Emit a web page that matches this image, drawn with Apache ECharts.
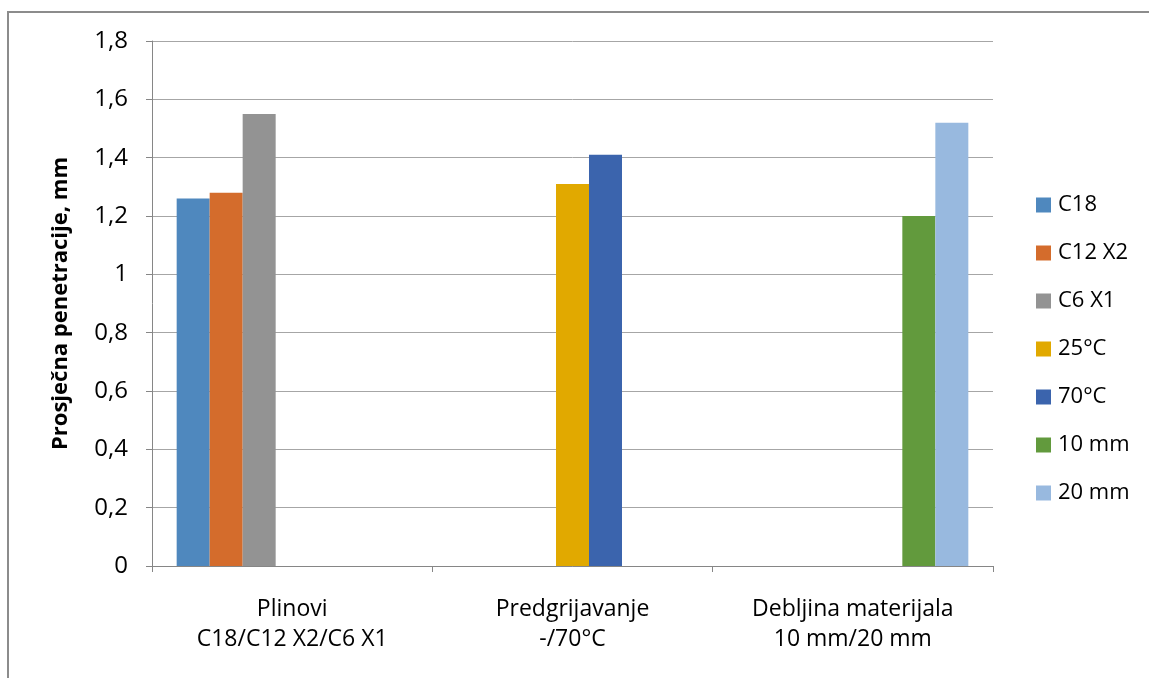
<!DOCTYPE html>
<html>
<head>
<meta charset="utf-8">
<script src="https://cdn.jsdelivr.net/npm/echarts@6/dist/echarts.min.js"></script>
<style>
html,body{margin:0;padding:0;background:#fff;}
#c{width:1149px;height:678px;}
</style>
</head>
<body>
<div id="c"></div>
<script>
var categories = ['Plinovi\nC18/C12 X2/C6 X1', 'Predgrijavanje\n-/70°C', 'Debljina materijala\n10 mm/20 mm'];
var seriesNames = ['C18', 'C12 X2', 'C6 X1', '25°C', '70°C', '10 mm', '20 mm'];
var C18 = [1.26, null, null];
var C12X2 = [1.28, null, null];
var C6X1 = [1.55, null, null];
var T25 = [null, 1.31, null];
var T70 = [null, 1.41, null];
var D10 = [null, null, 1.20];
var D20 = [null, null, 1.52];
var seriesValues = [C18, C12X2, C6X1, T25, T70, D10, D20];
var colors = ['#4F88BE', '#D46C2C', '#939393', '#E1A900', '#3B64AD', '#629A3D', '#98B9DF'];
var yTitle = 'Prosječna penetracije, mm';

var FONT = '"Open Sans", "Noto Sans", sans-serif';
var chart = echarts.init(document.getElementById('c'), null, {renderer: 'canvas'});
var series = seriesNames.map(function (n, i) {
  return {
    name: n, type: 'bar', data: seriesValues[i],
    barGap: '0%', barCategoryGap: '17.6%',
    itemStyle: {color: colors[i]}
  };
});
chart.setOption({
  animation: false,
  color: colors,
  graphic: [{
    type: 'rect', shape: {x: 8, y: 12, width: 1160, height: 690},
    style: {fill: 'none', stroke: '#8C8C8C', lineWidth: 2}, silent: true
  }],
  grid: {left: 152, right: 156, top: 41, bottom: 112, containLabel: false},
  legend: {
    orient: 'vertical', left: 1036, top: 194, padding: 0,
    itemWidth: 15, itemHeight: 15, itemGap: 26,
    icon: 'rect',
    textStyle: {fontFamily: FONT, fontSize: 22, lineHeight: 22, color: '#000', padding: [0, 0, 0, 2]},
    data: seriesNames
  },
  xAxis: {
    type: 'category', data: categories,
    axisLine: {lineStyle: {color: '#868686', width: 1}},
    axisTick: {show: true, length: 6, lineStyle: {color: '#868686'}},
    axisLabel: {fontFamily: FONT, fontSize: 23, color: '#000', lineHeight: 30, margin: 28, interval: 0}
  },
  yAxis: {
    type: 'value', min: 0, max: 1.8, interval: 0.2,
    name: yTitle, nameLocation: 'middle', nameGap: 80, nameRotate: 90,
    nameTextStyle: {fontFamily: FONT, fontSize: 22, fontWeight: 'bold', color: '#000'},
    axisLine: {show: true, lineStyle: {color: '#868686', width: 1}},
    axisTick: {show: true, length: 6, lineStyle: {color: '#868686'}},
    splitLine: {lineStyle: {color: '#A6A6A6', width: 1}},
    axisLabel: {
      fontFamily: FONT, fontSize: 24, color: '#000', margin: 24,
      formatter: function (v) { return String(+v.toFixed(1)).replace('.', ','); }
    }
  },
  series: series
});
</script>
</body>
</html>
